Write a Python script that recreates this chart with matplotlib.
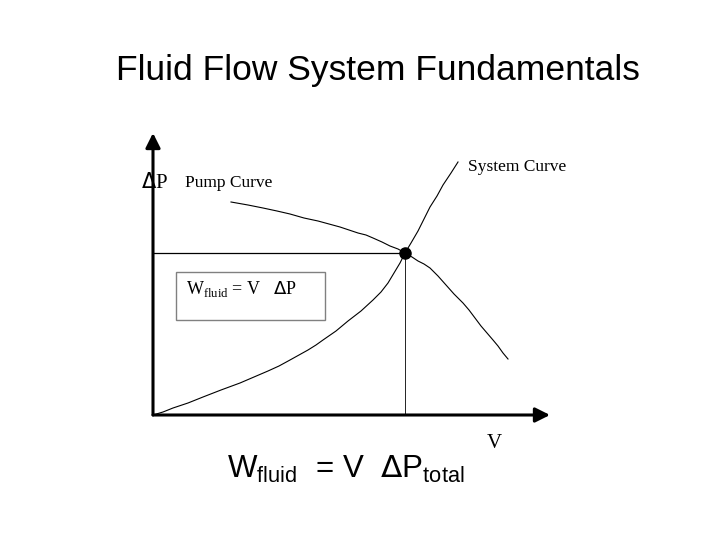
import matplotlib.pyplot as plt
import numpy as np

# pump curve: flow V vs pressure rise dP (arbitrary units)
pump_v = [78, 95, 110, 124, 137, 151, 165, 176, 187, 196, 205, 213, 220, 229, 237, 245,
          252, 259, 265, 271, 277, 285, 293, 301, 310, 316, 322, 328, 334, 340, 345, 350, 355]
pump_dp = [213, 210, 207, 204, 201, 197, 194, 191, 188, 185, 182, 180, 177, 173, 169, 166,
           162, 158, 154, 151, 147, 139, 130, 121, 112, 105, 97, 89, 82, 75, 69, 62, 56]

# system curve
sys_v = [0, 10, 20, 35, 50, 68, 87, 101, 115, 126, 137, 146, 155, 163, 170, 183, 195,
         208, 220, 228, 235, 241, 247, 252, 258, 265, 271, 277, 284, 290, 298, 305]
sys_dp = [0, 3, 7, 12, 18, 25, 32, 38, 44, 49, 55, 60, 65, 70, 75, 84, 94,
          104, 115, 123, 132, 142, 152, 162, 172, 184, 196, 208, 219, 230, 242, 253]

op_v, op_dp = 252, 162
xmax, ymax = 397, 282

fig = plt.figure(figsize=(7.2, 5.4), dpi=100)
fig.patch.set_facecolor('white')

fig.text(0.525, 0.87, 'Fluid Flow System Fundamentals', ha='center', va='center',
         fontsize=25.5, family='Liberation Sans')

ax = fig.add_axes([153/720, 125/540, xmax/720, ymax/540])
ax.set_xlim(0, xmax)
ax.set_ylim(0, ymax)
ax.axis('off')

# axes arrows
ax.annotate('', xy=(0, ymax), xytext=(0, 0),
            arrowprops=dict(arrowstyle='-|>', lw=2.2, color='k', mutation_scale=22,
                            shrinkA=0, shrinkB=0), annotation_clip=False)
ax.annotate('', xy=(xmax, 0), xytext=(0, 0),
            arrowprops=dict(arrowstyle='-|>', lw=2.2, color='k', mutation_scale=22,
                            shrinkA=0, shrinkB=0), annotation_clip=False)

ax.plot(pump_v, pump_dp, color='k', lw=0.8)
ax.plot(sys_v, sys_dp, color='k', lw=0.8)

# operating point and guide lines
ax.plot([0, op_v], [op_dp, op_dp], color='k', lw=0.9)
ax.plot([op_v, op_v], [0, op_dp], color='k', lw=0.6)
ax.plot(op_v, op_dp, 'o', color='k', ms=8)

serif = 'Liberation Serif'
ax.text(-12, 232, r'$\Delta$P', fontsize=15, family=serif, ha='left', va='center')
ax.text(32, 232, 'Pump Curve', fontsize=12.5, family=serif, ha='left', va='center')
ax.text(315, 248, 'System Curve', fontsize=12.5, family=serif, ha='left', va='center')
ax.text(341, -28, 'V', fontsize=15, family=serif, ha='center', va='center')

# box with work formula
box = plt.Rectangle((23, 95), 149, 48, fill=False, ec='#808080', lw=1.0)
ax.add_patch(box)
ax.text(33, 126, r'W$_{\mathregular{fluid}}$ = V   $\Delta$P', fontsize=13, family=serif,
        ha='left', va='center')

fig.text(0.315, 0.13, r'W$_{\mathregular{fluid}}$  = V  $\Delta$P$_{\mathregular{total}}$',
         fontsize=22.5, family='Liberation Sans', ha='left', va='center')

fig.savefig('out.png', dpi=100)
